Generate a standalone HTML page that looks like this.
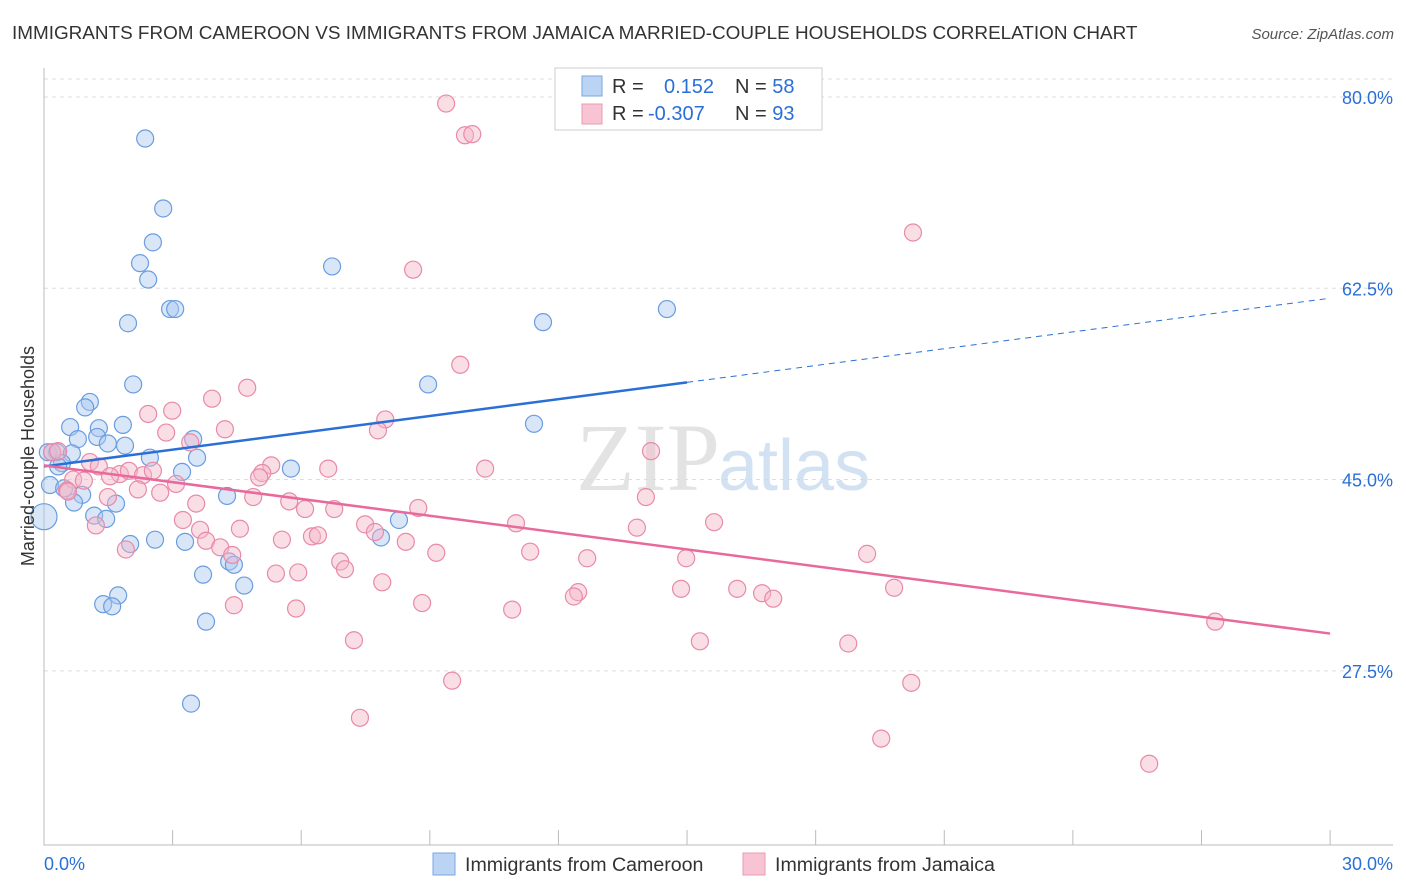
<!DOCTYPE html>
<html><head><meta charset="utf-8"><style>
body{margin:0;background:#fff;font-family:"Liberation Sans",sans-serif}
svg{display:block}
</style></head><body>
<svg width="1406" height="892" xmlns="http://www.w3.org/2000/svg">
<text x="12" y="39" font-size="18.9" fill="#333">IMMIGRANTS FROM CAMEROON VS IMMIGRANTS FROM JAMAICA MARRIED-COUPLE HOUSEHOLDS CORRELATION CHART</text>
<text x="1394" y="39" font-size="15" fill="#555" text-anchor="end" font-style="italic">Source: ZipAtlas.com</text>
<g id="grid"></g>
<text x="720" y="490" font-size="96" fill="#ddd" text-anchor="end" font-family="Liberation Serif" opacity="0.8">ZIP</text>
<text x="718" y="490" font-size="72" fill="#c8dcf0" opacity="0.8">atlas</text>
<g id="marks"></g>
<text transform="translate(34,456) rotate(-90)" font-size="18" fill="#333" text-anchor="middle">Married-couple Households</text>
<g>
<rect x="555" y="68" width="267" height="62" fill="#fff" stroke="#ccc"/>
<rect x="582" y="76" width="20" height="20" fill="#bcd4f4" stroke="#7aa6e0"/>
<rect x="582" y="104" width="20" height="20" fill="#f8c4d4" stroke="#e89ab4"/>
<text x="612" y="93" font-size="20" fill="#333">R = <tspan fill="#2a6fd6" x="664">0.152</tspan><tspan x="735" fill="#333">N = </tspan><tspan fill="#2a6fd6">58</tspan></text>
<text x="612" y="120" font-size="20" fill="#333">R = <tspan fill="#2a6fd6" x="648">-0.307</tspan><tspan x="735" fill="#333">N = </tspan><tspan fill="#2a6fd6">93</tspan></text>
</g>
<g>
<rect x="433" y="853" width="22" height="22" fill="#bcd4f4" stroke="#7aa6e0"/>
<text x="465" y="871" font-size="19.6" fill="#333">Immigrants from Cameroon</text>
<rect x="743" y="853" width="22" height="22" fill="#f8c4d4" stroke="#e89ab4"/>
<text x="775" y="871" font-size="19.6" fill="#333">Immigrants from Jamaica</text>
</g>
</svg>
<script>
const blueX=[2.36,2.78,2.54,2.24,2.43,6.72,1.96,2.94,3.06,11.64,14.53,2.08,8.96,1.07,0.96,1.84,1.28,0.61,11.43,0.79,1.24,1.49,1.89,3.48,0.30,0.09,0.65,3.57,2.47,0.42,0.33,5.76,3.22,0.14,0.89,0.47,0.70,1.68,1.17,1.45,4.27,8.28,0,2.59,2.01,3.29,7.86,4.32,4.43,3.71,4.67,1.73,1.38,1.59,3.78,3.43,0.19];
const blueY=[76.2,69.8,66.7,64.8,63.3,64.5,59.3,60.6,60.6,59.4,60.6,53.7,53.7,52.1,51.6,50.0,49.7,49.8,50.1,48.7,48.9,48.3,48.1,48.7,47.5,47.5,47.4,47.0,47.0,46.5,46.2,46.0,45.7,44.5,43.6,44.2,42.9,42.8,41.7,41.4,43.5,41.3,41.6,39.5,39.1,39.3,39.7,37.5,37.2,36.3,35.3,34.4,33.6,33.4,32.0,24.5,47.5];
const pinkX=[9.38,9.82,9.99,20.27,8.61,9.71,4.74,3.92,2.43,2.99,7.96,7.79,2.85,4.22,3.41,14.16,0.19,0.33,1.07,1.28,5.30,6.63,10.29,5.09,5.02,0.68,0.93,1.77,1.98,2.31,2.54,3.08,0.54,1.49,2.19,2.71,4.88,5.72,6.09,6.77,8.73,14.04,3.55,3.24,11.01,15.63,13.83,7.49,4.57,3.64,7.72,1.21,6.25,6.39,5.55,3.78,4.11,8.44,11.34,12.67,14.98,19.20,9.15,1.91,4.39,6.91,7.02,5.41,5.93,7.89,14.86,16.17,16.75,17.01,19.83,12.46,12.36,4.43,5.88,8.82,10.92,7.23,15.30,18.76,27.32,9.52,20.23,7.37,19.53,25.78,0.56,1.54];
const pinkY=[79.4,76.5,76.6,67.6,64.2,55.5,53.4,52.4,51.0,51.3,50.5,49.5,49.3,49.6,48.4,47.6,47.5,47.6,46.6,46.2,46.3,46.0,46.0,45.6,45.2,45.0,44.9,45.5,45.8,45.4,45.8,44.6,44.0,43.4,44.1,43.8,43.4,43.0,42.3,42.3,42.4,43.4,42.8,41.3,41.0,41.1,40.6,40.9,40.5,40.4,40.2,40.8,39.8,39.9,39.5,39.4,38.8,39.3,38.4,37.8,37.8,38.2,38.3,38.6,38.1,37.5,36.8,36.4,36.5,35.6,35.0,35.0,34.6,34.1,35.1,34.7,34.3,33.5,33.2,33.7,33.1,30.3,30.2,30.0,32.0,26.6,26.4,23.2,21.3,19.0,43.9,45.3];
const blueTrend=[46.2,0.513];
const pinkTrend=[46.3,-0.513];
const yTicks=[80,62.5,45,27.5];
const yTickLabels=["80.0%","62.5%","45.0%","27.5%"];
const xTickLabels=["0.0%","30.0%"];
const NS="http://www.w3.org/2000/svg";
const X=v=>44+v*42.87, Y=v=>97+(80-v)*10.93;
const gridG=document.getElementById('grid'), marksG=document.getElementById('marks');
function mk(p,tag,a){const e=document.createElementNS(NS,tag);for(const k in a)e.setAttribute(k,a[k]);p.appendChild(e);return e;}
yTicks.forEach((t,i)=>{
 const l=mk(gridG,'line',{x1:44,x2:1393,y1:Y(t),y2:Y(t),stroke:'#ddd','stroke-dasharray':'4,4'});
 
 
 const tx=mk(gridG,'text',{x:1393,y:Y(t)+7,'font-size':18,fill:'#2a6fd6','text-anchor':'end'});tx.textContent=yTickLabels[i];
 
 
});
const topGrid=mk(gridG,'line',{x1:44,x2:1393,y1:79,y2:79,stroke:'#ddd','stroke-dasharray':'4,4'});


const axesPath=mk(gridG,'path',{d:'M44,68V845H1393',fill:'none',stroke:'#bbb'});


for(let i=0;i<=10;i++){const t=mk(gridG,'line',{x1:X(i*3),x2:X(i*3),y1:830,y2:845,stroke:'#bbb'});
 
 }
[[0,'start',44],[30,'end',1393]].forEach((d,i)=>{const t=mk(gridG,'text',{x:d[2],y:870,'font-size':18,fill:'#2a6fd6','text-anchor':d[1]});t.textContent=xTickLabels[i];
 
 });
function dots(xs,ys,fill,stroke,name){xs.forEach((x,i)=>{const c=mk(marksG,'circle',{cx:X(x),cy:Y(ys[i]),r:(x===0?13:8.5),fill:fill,'fill-opacity':0.45,stroke:stroke,'stroke-width':1.2});
 
 });}
dots(blueX,blueY,'#a8c8f0','#6a9de0','cameroon-point');
dots(pinkX,pinkY,'#f4b6c8','#e88aa8','jamaica-point');
const bl=mk(marksG,'line',{x1:X(0),y1:Y(blueTrend[0]),x2:X(15),y2:Y(blueTrend[0]+15*blueTrend[1]),stroke:'#2a6fd6','stroke-width':2.5});


const bd=mk(marksG,'line',{x1:X(15),y1:Y(blueTrend[0]+15*blueTrend[1]),x2:X(30),y2:Y(blueTrend[0]+30*blueTrend[1]),stroke:'#2a6fd6','stroke-width':1,'stroke-dasharray':'6,5'});


const pl=mk(marksG,'line',{x1:X(0),y1:Y(pinkTrend[0]),x2:X(30),y2:Y(pinkTrend[0]+30*pinkTrend[1]),stroke:'#e8699a','stroke-width':2.5});


</script>
</body></html>
